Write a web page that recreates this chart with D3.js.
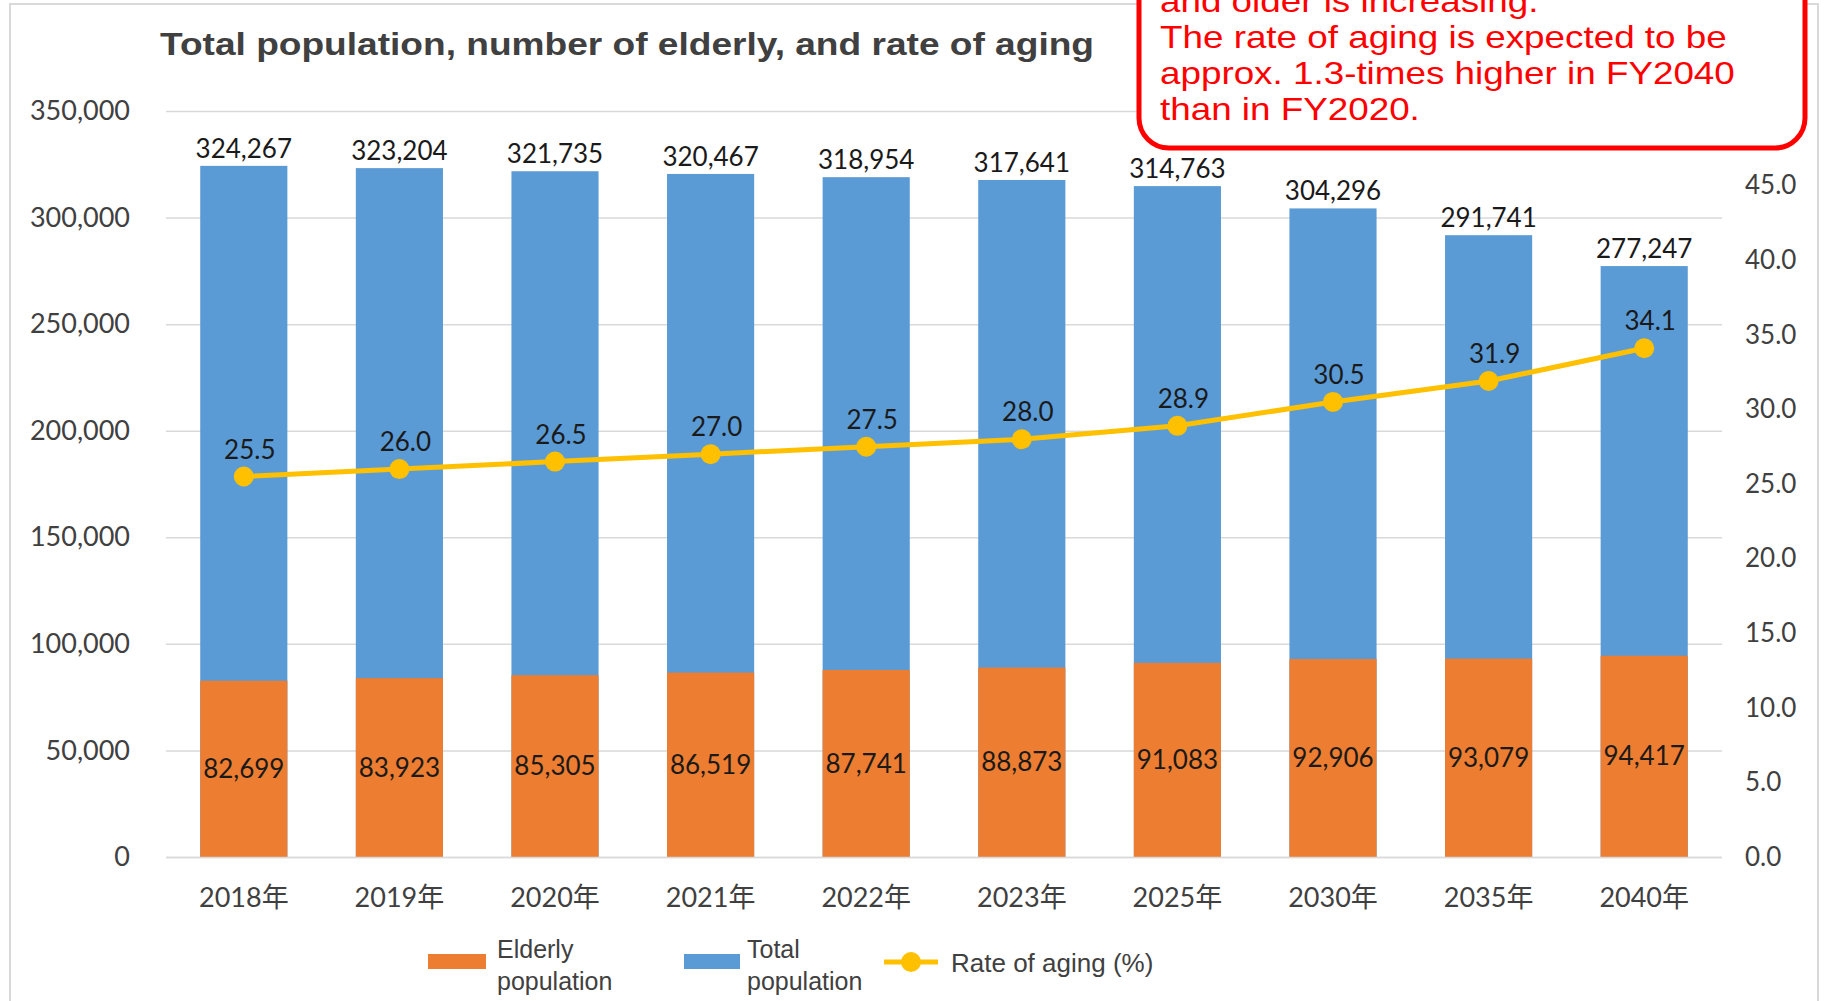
<!DOCTYPE html>
<html>
<head>
<meta charset="utf-8">
<script src="https://cdn.jsdelivr.net/npm/d3@7"></script>
<style>
  body { margin: 0; background: #fff; }
  svg { display: block; }
</style>
</head>
<body>
<div id="chart-area"></div>
<script>
// Data
var years = ["2018年", "2019年", "2020年", "2021年", "2022年", "2023年", "2025年", "2030年", "2035年", "2040年"];
var totalPop = [324267, 323204, 321735, 320467, 318954, 317641, 314763, 304296, 291741, 277247];
var elderlyPop = [82699, 83923, 85305, 86519, 87741, 88873, 91083, 92906, 93079, 94417];
var agingRate = [25.5, 26.0, 26.5, 27.0, 27.5, 28.0, 28.9, 30.5, 31.9, 34.1];
var leftTicks = [0, 50000, 100000, 150000, 200000, 250000, 300000, 350000];
var rightTicks = [0, 5, 10, 15, 20, 25, 30, 35, 40, 45, 50];
var noteLines = ["and older is increasing.",
  "The rate of aging is expected to be",
  "approx. 1.3-times higher in FY2040",
  "than in FY2020."];

var W = 1824, H = 1001;
var margin = {top: 111, left: 166, right: 102, bottom: 144};
var numFont = "Lato, 'Noto Sans CJK JP', sans-serif";
var txtFont = "'Liberation Sans', Arial, sans-serif";

var svg = d3.select("#chart-area").append("svg")
  .attr("width", W)
  .attr("height", H);

// chart frame
svg.append("rect")
  .attr("x", 10).attr("y", 4)
  .attr("width", 1808).attr("height", 1100)
  .attr("fill", "#fff")
  .attr("stroke", "#d9d9d9")
  .attr("stroke-width", 2);

var x = d3.scaleBand()
  .domain(years)
  .range([margin.left, W - margin.right])
  .paddingInner(0.44)
  .paddingOuter(0.22);

var y = d3.scaleLinear()
  .domain([0, 350000])
  .range([H - margin.bottom, margin.top]);

var yR = d3.scaleLinear()
  .domain([0, 50])
  .range([H - margin.bottom, margin.top]);

// gridlines
svg.append("g")
  .selectAll("line")
  .data(leftTicks)
  .enter()
  .append("line")
  .attr("x1", margin.left)
  .attr("x2", W - margin.right)
  .attr("y1", function(d) { return y(d) + 0.5; })
  .attr("y2", function(d) { return y(d) + 0.5; })
  .attr("stroke", "#d9d9d9")
  .attr("stroke-width", 1.5);

// left axis
var yAxis = d3.axisLeft(y)
  .tickValues(leftTicks)
  .tickSize(0)
  .tickPadding(0)
  .tickFormat(d3.format(","));
var gl = svg.append("g")
  .attr("transform", "translate(130,0)")
  .call(yAxis);
gl.select(".domain").remove();
gl.selectAll("text")
  .attr("font-family", numFont)
  .attr("font-size", 27)
  .attr("fill", "#404040");

// right axis
var yAxisR = d3.axisRight(yR)
  .tickValues(rightTicks)
  .tickSize(0)
  .tickPadding(0)
  .tickFormat(d3.format(".1f"));
var gr = svg.append("g")
  .attr("transform", "translate(1745,0)")
  .call(yAxisR);
gr.select(".domain").remove();
gr.selectAll("text")
  .attr("font-family", numFont)
  .attr("font-size", 26)
  .attr("fill", "#404040");

// x axis
var xAxis = d3.axisBottom(x).tickSize(0).tickPadding(0);
var gx = svg.append("g")
  .attr("transform", "translate(0," + (H - margin.bottom + 31) + ")")
  .call(xAxis);
gx.select(".domain").remove();
gx.selectAll("text")
  .attr("font-family", numFont)
  .attr("font-size", 27)
  .attr("fill", "#404040");

// total population bars
svg.append("g")
  .selectAll("rect")
  .data(totalPop)
  .enter()
  .append("rect")
  .attr("x", function(d, i) { return x(years[i]); })
  .attr("width", x.bandwidth())
  .attr("y", function(d) { return y(d); })
  .attr("height", function(d) { return y(0) - y(d); })
  .attr("fill", "#5b9bd5");

// elderly bars (overlapping)
svg.append("g")
  .selectAll("rect")
  .data(elderlyPop)
  .enter()
  .append("rect")
  .attr("x", function(d, i) { return x(years[i]); })
  .attr("width", x.bandwidth())
  .attr("y", function(d) { return y(d); })
  .attr("height", function(d) { return y(0) - y(d); })
  .attr("fill", "#ed7d31");

// baseline
svg.append("line")
  .attr("x1", margin.left).attr("x2", W - margin.right)
  .attr("y1", y(0) + 0.5).attr("y2", y(0) + 0.5)
  .attr("stroke", "#d9d9d9")
  .attr("stroke-width", 1.5);

var cx = function(i) { return x(years[i]) + x.bandwidth() / 2; };

// total labels
svg.append("g")
  .selectAll("text")
  .data(totalPop)
  .enter()
  .append("text")
  .attr("x", function(d, i) { return cx(i); })
  .attr("y", function(d) { return y(d) - 8; })
  .attr("text-anchor", "middle")
  .attr("font-family", numFont)
  .attr("font-size", 26)
  .attr("fill", "#1a1a1a")
  .text(function(d) { return d3.format(",")(d); });

// elderly labels
svg.append("g")
  .selectAll("text")
  .data(elderlyPop)
  .enter()
  .append("text")
  .attr("x", function(d, i) { return cx(i); })
  .attr("y", function(d) { return (y(d) + y(0)) / 2; })
  .attr("dy", "0.35em")
  .attr("text-anchor", "middle")
  .attr("font-family", numFont)
  .attr("font-size", 26)
  .attr("fill", "#1a1a1a")
  .text(function(d) { return d3.format(",")(d); });

// aging rate line
var line = d3.line()
  .x(function(d, i) { return cx(i); })
  .y(function(d) { return yR(d); });

svg.append("path")
  .datum(agingRate)
  .attr("d", line)
  .attr("fill", "none")
  .attr("stroke", "#ffc000")
  .attr("stroke-width", 5)
  .attr("stroke-linejoin", "round");

svg.append("g")
  .selectAll("circle")
  .data(agingRate)
  .enter()
  .append("circle")
  .attr("cx", function(d, i) { return cx(i); })
  .attr("cy", function(d) { return yR(d); })
  .attr("r", 10)
  .attr("fill", "#ffc000");

svg.append("g")
  .selectAll("text")
  .data(agingRate)
  .enter()
  .append("text")
  .attr("x", function(d, i) { return cx(i) + 6; })
  .attr("y", function(d) { return yR(d) - 18; })
  .attr("text-anchor", "middle")
  .attr("font-family", numFont)
  .attr("font-size", 26)
  .attr("fill", "#1a1a1a")
  .text(function(d) { return d3.format(".1f")(d); });

// title
svg.append("text")
  .attr("x", 160)
  .attr("y", 55)
  .attr("font-family", txtFont)
  .attr("font-weight", "bold")
  .attr("font-size", 32)
  .attr("fill", "#404040")
  .attr("textLength", 934)
  .attr("lengthAdjust", "spacingAndGlyphs")
  .text("Total population, number of elderly, and rate of aging");

// legend
var lg = svg.append("g").attr("font-family", txtFont).attr("font-size", 25).attr("fill", "#404040");
lg.append("rect").attr("x", 428).attr("y", 954).attr("width", 58).attr("height", 15).attr("fill", "#ed7d31");
lg.append("text").attr("x", 497).attr("y", 958).text("Elderly");
lg.append("text").attr("x", 497).attr("y", 990).text("population");
lg.append("rect").attr("x", 684).attr("y", 954).attr("width", 56).attr("height", 15).attr("fill", "#5b9bd5");
lg.append("text").attr("x", 747).attr("y", 958).text("Total");
lg.append("text").attr("x", 747).attr("y", 990).text("population");
lg.append("line").attr("x1", 884).attr("x2", 938).attr("y1", 962).attr("y2", 962)
  .attr("stroke", "#ffc000").attr("stroke-width", 5);
lg.append("circle").attr("cx", 911).attr("cy", 962).attr("r", 10).attr("fill", "#ffc000");
lg.append("text").attr("x", 951).attr("y", 972).attr("font-size", 26).text("Rate of aging (%)");

// annotation box
svg.append("rect")
  .attr("x", 1139).attr("y", -60)
  .attr("width", 666).attr("height", 208)
  .attr("rx", 30).attr("ry", 30)
  .attr("fill", "#fff")
  .attr("stroke", "#ff0000")
  .attr("stroke-width", 5);

// note text: stretched a little horizontally, like the original
svg.append("g")
  .selectAll("text")
  .data(noteLines)
  .enter()
  .append("text")
  .attr("x", 1160)
  .attr("y", function(d, i) { return 12 + i * 36; })
  .attr("font-family", txtFont)
  .attr("font-size", 32)
  .attr("fill", "#ff0000")
  .text(function(d) { return d; })
  .each(function() {
    var len = this.getComputedTextLength();
    d3.select(this)
      .attr("textLength", len * 1.15)
      .attr("lengthAdjust", "spacingAndGlyphs");
  });
</script>
</body>
</html>
